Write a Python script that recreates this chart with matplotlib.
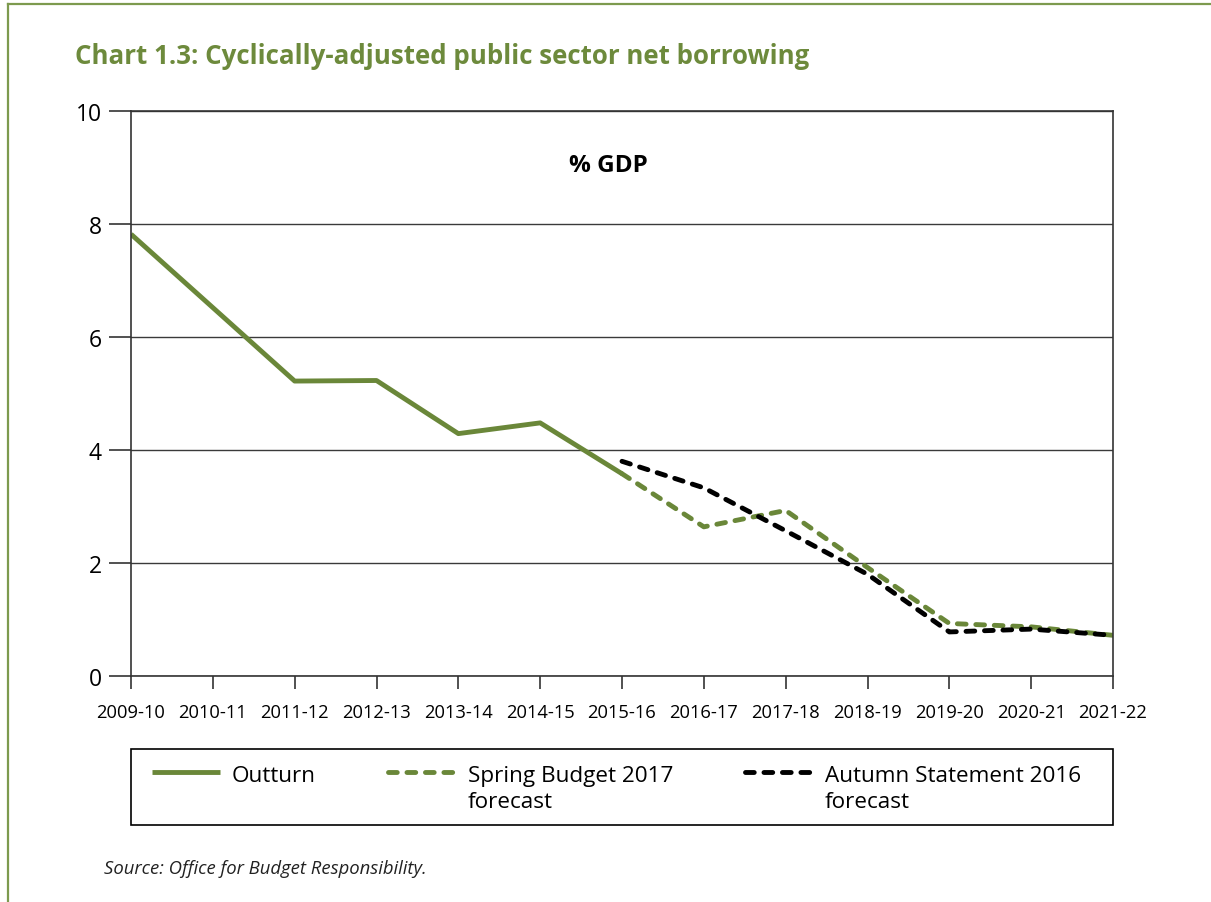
import matplotlib
matplotlib.use("Agg")
from matplotlib import pyplot as plt
from matplotlib.lines import Line2D
from matplotlib.patches import Rectangle
from matplotlib.legend_handler import HandlerLine2D

plt.rcParams['font.family'] = ['Open Sans', 'DejaVu Sans']

years = ['2009-10', '2010-11', '2011-12', '2012-13', '2013-14', '2014-15', '2015-16',
         '2016-17', '2017-18', '2018-19', '2019-20', '2020-21', '2021-22']
outturn = [7.82, 6.52, 5.22, 5.23, 4.29, 4.48, 3.58]
spring_2017 = [3.58, 2.64, 2.93, 1.92, 0.93, 0.87, 0.72]
autumn_2016 = [3.80, 3.33, 2.57, 1.80, 0.78, 0.83, 0.72]

green = '#6a8739'
title_green = '#6d8a3c'

fig = plt.figure(figsize=(12.11, 9.03), dpi=100)
ax = fig.add_axes([131/1211, 1 - 677/903, (1113-131)/1211, (677-112)/903])

x_out = list(range(len(outturn)))
x_fc = list(range(6, 6 + len(spring_2017)))

ax.plot(x_out, outturn, color=green, lw=3.5, solid_capstyle='butt', label='Outturn\n')
ax.plot(x_fc, spring_2017, color=green, lw=3.5, dashes=(1.8, 2.0), dash_capstyle='round',
        label='Spring Budget 2017\nforecast')
ax.plot(x_fc, autumn_2016, color='black', lw=3.5, dashes=(1.8, 2.0), dash_capstyle='round',
        label='Autumn Statement 2016\nforecast')

ax.set_xlim(0, 12)
ax.set_ylim(0, 10)
ax.set_xticks(range(len(years)))
ax.set_xticklabels(years)
ax.set_yticks([0, 2, 4, 6, 8, 10])
ax.yaxis.grid(True, color='#3a3a3a', lw=1.0)
ax.set_axisbelow(True)
for s in ax.spines.values():
    s.set_color('#333333')
    s.set_linewidth(1.2)
ax.tick_params(axis='y', length=16, width=1.2, color='#333333', pad=5, labelsize=16.5)
ax.tick_params(axis='x', length=9.5, width=1.2, color='#333333', pad=10, labelsize=13.2)

ax.text(0.486, 0.905, '% GDP', transform=ax.transAxes, ha='center', va='center',
        fontsize=17.5, fontweight='bold')

fig.text(75/1211, 1 - 64/903, 'Chart 1.3: Cyclically-adjusted public sector net borrowing',
         color=title_green, fontsize=18.6, fontweight='bold', va='baseline')


def raise_handle(leg_line, orig):
    # copy the style, then lift the sample level with the first text line
    leg_line.update_from(orig)
    leg_line.set_ydata([y + 8.5 for y in leg_line.get_ydata()])


leg = fig.legend(loc='upper left', ncol=3, mode='expand',
                 bbox_to_anchor=(152/1211, 1 - 766/903, (1081-152)/1211, 0),
                 fontsize=16.2, handlelength=3.0, handleheight=2.0, handletextpad=0.55,
                 borderpad=0, frameon=False, borderaxespad=0,
                 handler_map={Line2D: HandlerLine2D(update_func=raise_handle)})
for t in leg.get_texts():
    t.set_linespacing(1.3)

# box round the legend
fig.add_artist(Rectangle((131/1211, 1 - 826/903), (1113-131)/1211, 76/903,
                         transform=fig.transFigure, fill=False, edgecolor='black', lw=1.2))

fig.text(104/1211, 1 - 874/903, 'Source: Office for Budget Responsibility.',
         fontsize=13.3, fontstyle='italic', va='baseline', color='#222222')

frame_col = '#7d9a4e'
fig.add_artist(Line2D([8/1211, 8/1211], [0, 1 - 5/903], transform=fig.transFigure,
                      color=frame_col, lw=1.6))
fig.add_artist(Line2D([8/1211, 1], [1 - 5/903, 1 - 5/903], transform=fig.transFigure,
                      color=frame_col, lw=1.6))

fig.savefig('out.png', dpi=100)
